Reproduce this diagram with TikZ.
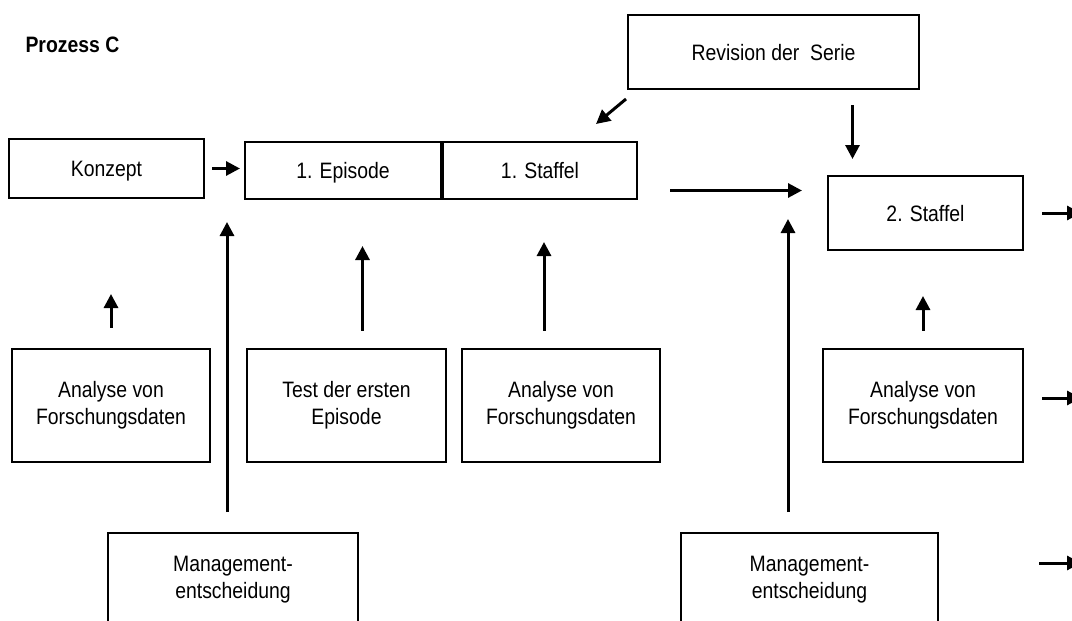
\documentclass[tikz,border=0pt]{standalone}
\usepackage{fontspec}
\setmainfont{Liberation Sans}[FakeStretch=0.87]
\usetikzlibrary{arrows.meta,positioning,calc}

\begin{document}
\begin{tikzpicture}[
  x=1pt, y=-1pt,
  font=\fontsize{22.3}{27}\selectfont,
  box/.style={rectangle, draw=black, line width=2pt, align=center, inner sep=0pt},
  sbox/.style={box, text depth=0pt},
  abox/.style={box, minimum width=198pt, minimum height=113pt},
  mbox/.style={box, minimum height=94pt},
  arrow/.style={-{Triangle[length=14pt,width=14pt]}, line width=3pt}
]
\useasboundingbox (0,0) rectangle (1072,621);
\clip (0,0) rectangle (1072,621);

\node[anchor=base west] (title) at (22,52) {\bfseries Prozess C};

\node[sbox, minimum width=195pt, minimum height=59pt] (konzept) at (106.5,168.5) {Konzept};
\node[sbox, minimum width=196pt, minimum height=57pt] (episode) at (343,170.5) {1. Episode};
\node[sbox, minimum width=194pt, minimum height=57pt, right=0pt of episode] (staffA) {1. Staffel};
\node[sbox, minimum width=291pt, minimum height=74pt] (revision) at (773.5,52) {Revision der\ \ Serie};
\node[sbox, minimum width=195pt, minimum height=74pt] (staffB) at (925.5,213) {2. Staffel};

\node[abox] (ana1) at (111,405) {Analyse von\\Forschungsdaten};
\node[abox, minimum width=199pt] (test) at (346.5,405) {Test der ersten\\Episode};
\node[abox] (ana2) at (561,405) {Analyse von\\Forschungsdaten};
\node[abox, minimum width=200pt] (ana3) at (923,405) {Analyse von\\Forschungsdaten};

\node[mbox, minimum width=250pt] (mgmtA) at (233,580) {Management-\\entscheidung};
\node[mbox, minimum width=257pt] (mgmtB) at (809.5,580) {Management-\\entscheidung};

\draw[line width=3pt] (staffA.north west) -- (staffA.south west);

\coordinate (revdrop) at ([xshift=-73pt]staffB.north);
\coordinate (runout) at ([yshift=-20pt]staffA.east);
\coordinate (testup) at ([xshift=16pt]test.north);
\coordinate (ana2up) at ([xshift=-17pt]ana2.north);
\coordinate (join1) at (227,222);
\coordinate (join2) at (788,219);
\coordinate (edge1) at (1081,213);
\coordinate (edge2) at (1081,398);
\coordinate (edge3) at (1081,563);

\draw[arrow, shorten <=7pt, shorten >=4pt] (konzept.east) -- (konzept.east -| episode.west);
\draw[arrow] ([xshift=-1pt,yshift=-9pt]revision.south west) -- ([xshift=-42pt,yshift=17pt]staffA.north east);
\draw[arrow, shorten <=15pt, shorten >=16pt] (revdrop |- revision.south) -- (revdrop);
\draw[arrow, shorten <=32pt, shorten >=25pt] (runout) -- (runout -| staffB.west);

\draw[arrow, shorten <=20pt, shorten >=95pt] (ana1.north) -- (ana1.north |- konzept.south);
\draw[arrow, shorten <=17pt, shorten >=46pt] (testup) -- (testup |- episode.south);
\draw[arrow, shorten <=17pt, shorten >=42pt] (ana2up) -- (ana2up |- staffA.south);
\draw[arrow, shorten <=17pt, shorten >=45pt] (ana3.north) -- (ana3.north |- staffB.south);

\draw[arrow, shorten <=20pt] (mgmtA.north -| join1) -- (join1);
\draw[arrow, shorten <=20pt] (mgmtB.north -| join2) -- (join2);

\draw[arrow, shorten <=18pt] (staffB.east) -- (edge1);
\draw[arrow, shorten <=18pt] (ana3.east |- edge2) -- (edge2);
\draw[arrow, shorten <=100pt] (mgmtB.east |- edge3) -- (edge3);

\end{tikzpicture}
\end{document}
